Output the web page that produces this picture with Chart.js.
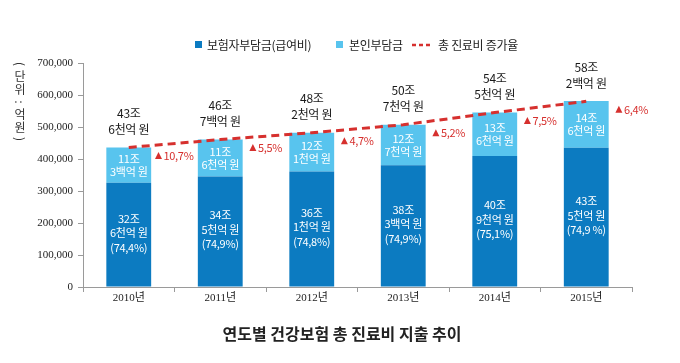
<!DOCTYPE html>
<html>
<head>
<meta charset="utf-8">
<script src="https://cdn.jsdelivr.net/npm/chart.js@4.4.1/dist/chart.umd.min.js"></script>
<style>
  html, body { margin: 0; padding: 0; background: #fff; }
  #wrap { width: 680px; height: 363px; position: relative; }
</style>
</head>
<body>
<div id="wrap"><canvas id="costChart"></canvas></div>
<script>
// years on the x axis
const years = ['2010년', '2011년', '2012년', '2013년', '2014년', '2015년'];

// values in 억 원
const insurerShare = [326000, 345000, 361000, 380300, 409000, 435000];
const patientShare = [110300, 116000, 121000, 127000, 136000, 146000];
const totalCost = [436000, 460700, 482000, 507000, 545000, 580200];
const growthRate = ['10,7', '5,5', '4,7', '5,2', '7,5', '6,4'];

// label texts shown on the bars
const insurerLabels = [
    ['32조', '6천억 원', '(74,4%)'],
    ['34조', '5천억 원', '(74,9%)'],
    ['36조', '1천억 원', '(74,8%)'],
    ['38조', '3백억 원', '(74,9%)'],
    ['40조', '9천억 원', '(75,1%)'],
    ['43조', '5천억 원', '(74,9 %)']
];
const patientLabels = [
    ['11조', '3백억 원'],
    ['11조', '6천억 원'],
    ['12조', '1천억 원'],
    ['12조', '7천억 원'],
    ['13조', '6천억 원'],
    ['14조', '6천억 원']
];
const totalLabels = [
    ['43조', '6천억 원'],
    ['46조', '7백억 원'],
    ['48조', '2천억 원'],
    ['50조', '7천억 원'],
    ['54조', '5천억 원'],
    ['58조', '2백억 원']
];

const DARK = '#0c7bc1';
const LIGHT = '#58c4ee';
const RED = '#d6302e';
const KR = '"Noto Sans CJK KR", "Noto Sans", sans-serif';

// draws value labels, legend, unit label and title
const annotate = {
    id: 'annotate',
    afterDatasetsDraw(chart) {
        const ctx = chart.ctx;
        const x = chart.scales.x;
        const y = chart.scales.y;
        const half = (x.getPixelForValue(1) - x.getPixelForValue(0)) / 2;
        ctx.save();
        ctx.textAlign = 'center';
        ctx.textBaseline = 'middle';
        ctx.letterSpacing = '-0.3px';

        years.forEach((yr, i) => {
            const cx = x.getPixelForValue(i);
            const y0 = y.getPixelForValue(0);
            const y1 = y.getPixelForValue(insurerShare[i]);
            const y2 = y.getPixelForValue(insurerShare[i] + patientShare[i]);

            // insurer segment
            ctx.fillStyle = '#ffffff';
            ctx.font = '11px ' + KR;
            const mid1 = (y0 + y1) / 2 - 2;
            insurerLabels[i].forEach((t, k) => {
                ctx.fillText(t, cx, mid1 + (k - 1) * 14.5);
            });

            // patient segment
            const mid2 = (y1 + y2) / 2;
            patientLabels[i].forEach((t, k) => {
                ctx.fillText(t, cx, mid2 + (k - 0.5) * 13);
            });

            // total above bar
            ctx.fillStyle = '#1a1a1a';
            ctx.font = '12px ' + KR;
            const yt = y.getPixelForValue(totalCost[i]);
            ctx.fillText(totalLabels[i][0], cx, yt - 34);
            ctx.fillText(totalLabels[i][1], cx, yt - 18);

            // growth rate with a small triangle
            ctx.fillStyle = RED;
            ctx.font = '11px ' + KR;
            const txt = growthRate[i] + '%';
            const w = ctx.measureText(txt).width + 9;
            const gx = cx + half - w / 2;
            const gy = yt + 8;
            ctx.beginPath();
            ctx.moveTo(gx, gy + 3.5);
            ctx.lineTo(gx + 7, gy + 3.5);
            ctx.lineTo(gx + 3.5, gy - 3.5);
            ctx.closePath();
            ctx.fill();
            ctx.textAlign = 'left';
            ctx.fillText(txt, gx + 8.5, gy);
            ctx.textAlign = 'center';
        });

        // legend
        ctx.textAlign = 'left';
        ctx.font = '12px ' + KR;
        ctx.fillStyle = DARK;
        ctx.fillRect(195, 41, 7, 7);
        ctx.fillStyle = '#222';
        ctx.fillText('보험자부담금(급여비)', 207, 45);
        ctx.fillStyle = LIGHT;
        ctx.fillRect(336, 41, 7, 7);
        ctx.fillStyle = '#222';
        ctx.fillText('본인부담금', 349, 45);
        ctx.strokeStyle = RED;
        ctx.lineWidth = 2.5;
        ctx.setLineDash([4, 3]);
        ctx.beginPath();
        ctx.moveTo(412, 45);
        ctx.lineTo(432, 45);
        ctx.stroke();
        ctx.setLineDash([]);
        ctx.fillText('총 진료비 증가율', 438, 45);

        // vertical unit label
        ctx.letterSpacing = '0px';
        ctx.textAlign = 'center';
        ctx.fillStyle = '#333';
        ctx.font = '12px ' + KR;
        const unit = ['(', '단', '위', ':', '억', '원', ')'];
        const ys = [64, 76, 89, 102, 114, 127, 139];
        unit.forEach((c, k) => {
            ctx.save();
            ctx.translate(20, ys[k]);
            if (c === '(' || c === ')' || c === ':') ctx.rotate(Math.PI / 2);
            ctx.fillText(c, 0, 0);
            ctx.restore();
        });

        // bottom title
        ctx.fillStyle = '#222';
        ctx.font = 'bold 16px ' + KR;
        ctx.fillText('연도별 건강보험 총 진료비 지출 추이', 342, 334);
        ctx.restore();
    }
};

const ctx = document.getElementById('costChart').getContext('2d');
const costChart = new Chart(ctx, {
    data: {
        labels: years,
        datasets: [
            {
                type: 'line',
                label: '총 진료비 증가율',
                data: totalCost,
                borderColor: RED,
                borderWidth: 3,
                borderDash: [8, 5],
                pointRadius: 0,
                fill: false,
                tension: 0,
                stack: 'rate',
                order: 0
            },
            {
                type: 'bar',
                label: '보험자부담금(급여비)',
                data: insurerShare,
                backgroundColor: DARK,
                stack: 'cost',
                order: 1,
                barPercentage: 0.49,
                categoryPercentage: 1.0
            },
            {
                type: 'bar',
                label: '본인부담금',
                data: patientShare,
                backgroundColor: LIGHT,
                stack: 'cost',
                order: 1,
                barPercentage: 0.49,
                categoryPercentage: 1.0
            }
        ]
    },
    options: {
        responsive: true,
        maintainAspectRatio: false,
        animation: false,
        locale: 'en-US',
        layout: { padding: { left: 0, right: 48, top: 63, bottom: 0 } },
        plugins: {
            legend: { display: false },
            tooltip: { enabled: false }
        },
        scales: {
            x: {
                stacked: true,
                afterFit: scale => { scale.height = 76; },
                border: { color: '#9a9a9a' },
                grid: { drawOnChartArea: false, tickLength: 5, color: '#9a9a9a', offset: true },
                ticks: {
                    padding: 0,
                    color: '#222',
                    font: { family: '"Liberation Serif", ' + KR, size: 11 }
                }
            },
            y: {
                stacked: true,
                min: 0,
                max: 700000,
                afterFit: scale => { scale.width = 83; },
                border: { color: '#9a9a9a' },
                grid: { drawOnChartArea: false, tickLength: 5, color: '#9a9a9a' },
                ticks: {
                    stepSize: 100000,
                    padding: 5,
                    color: '#222',
                    font: { family: '"Liberation Serif", serif', size: 11 }
                }
            }
        }
    },
    plugins: [annotate]
});
</script>
</body>
</html>
